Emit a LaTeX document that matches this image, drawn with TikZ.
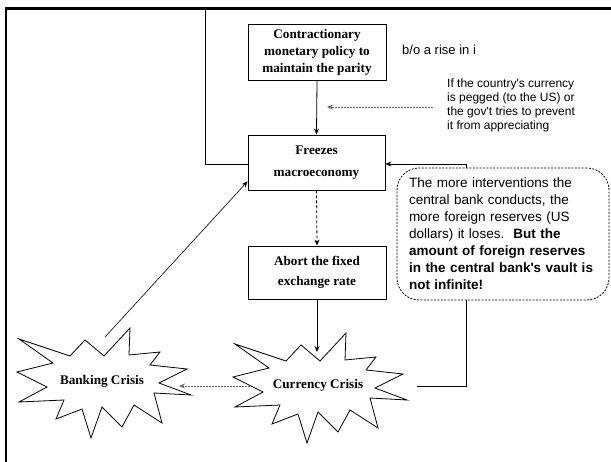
\documentclass[tikz,border=0pt]{standalone}
\usepackage{fontspec}
\setmainfont{Liberation Serif}
\newfontfamily\arial{Liberation Sans}
\usetikzlibrary{arrows.meta}

\tikzset{
  box/.style={draw=black, line width=0.9pt, fill=white, align=center,
    font=\fontsize{13.2}{17}\selectfont\bfseries, inner sep=0pt},
  tipped/.style={-{Stealth[length=6pt,width=5pt,inset=2pt]}},
  solidarr/.style={tipped, line width=0.8pt},
  dasharr/.style={tipped, line width=0.8pt, dash pattern=on 3pt off 2pt},
  dotarr/.style={tipped, line width=0.8pt, gray!80!black, dash pattern=on 1.6pt off 1.4pt},
  thinline/.style={line width=0.8pt},
  burstlabel/.style={font=\fontsize{13.2}{16}\selectfont\bfseries},
  explosion/.pic={
    \draw[line width=0.8pt, fill=white]
      (-83,-42) -- (-32,-25) -- (-17,-41) -- (2,-25) -- (28,-53) -- (27,-26)
      -- (58,-29) -- (48,-16) -- (85,-12) -- (57,2) -- (89,14) -- (52,12)
      -- (60,42) -- (32,24) -- (20,46) -- (0,26) -- (-11,57) -- (-20,28)
      -- (-46,38) -- (-38,19) -- (-83,21) -- (-55,6) -- (-85,-9) -- (-49,-18)
      -- cycle;
  }
}

\begin{document}
\begin{tikzpicture}[x=1pt, y=-1pt]
  \useasboundingbox (0,0) rectangle (611,462);
  \fill[white] (0,0) rectangle (611,462);

  % frame
  \draw[line width=2.7pt, black] (6,462) -- (6,8.7) -- (611,8.7);

  % main chain of boxes
  \node[box, minimum width=138pt, minimum height=56pt] (contr) at (317,52)
    {Contractionary\\monetary policy to\\maintain the parity};
  \node[box, minimum width=137pt, minimum height=55pt,
        font=\fontsize{13.2}{22}\selectfont\bfseries] (freeze) at (316.5,162.5)
    {Freezes\\macroeconomy};
  \node[box, minimum width=138pt, minimum height=53pt,
        font=\fontsize{13.2}{20}\selectfont\bfseries] (abort) at (317,272.5)
    {Abort the fixed\\exchange rate};

  % crises
  \pic at (318,386) {explosion};
  \node[burstlabel] (currency) at (318,385) {Currency Crisis};
  \pic at (102,381) {explosion};
  \node[burstlabel] (banking) at (102,381) {Banking Crisis};

  % side notes
  \node[anchor=west, font=\arial\fontsize{13}{15}\selectfont, inner sep=0pt]
    (rise) at (402,50) {b/o a rise in i};
  \node[anchor=west, align=left, font=\arial\fontsize{12}{14}\selectfont, inner sep=0pt]
    (note) at (447,105)
    {If the country's currency\\is pegged (to the US) or\\the gov't tries to prevent\\it from appreciating};

  % callout on reserves
  \node[draw, line width=0.8pt, dash pattern=on 2pt off 1.4pt, rounded corners=22pt,
        minimum width=212pt, minimum height=132pt, text width=188pt, inner xsep=12pt,
        align=left, font=\arial\fontsize{13.5}{17}\selectfont] (callout) at (503,234)
    {The more interventions the\\central bank conducts, the\\more foreign reserves (US\\dollars) it loses.\ \ \textbf{But the}\\\textbf{amount of foreign reserves}\\\textbf{in the central bank's vault is}\\\textbf{not infinite!}};

  % helper points
  \coordinate (topfeed) at (205,8.7);
  \coordinate (pegtip) at (327,107);
  \coordinate (bktop) at (105,337);
  \coordinate (ccin) at (317,352);
  \coordinate (ccright) at (417,386);
  \coordinate (ccleft) at (250,386);
  \coordinate (bkright) at (179,386);

  % connectors
  \draw[solidarr] (contr.south) -- (freeze.north);
  \draw[dotarr] ([xshift=-14pt]note.west |- pegtip) -- (pegtip);
  \draw[thinline] (topfeed) |- ([yshift=-1.5pt]freeze.west);
  \draw[solidarr] (callout.north -| 466,0) |- ([yshift=-1.5pt]freeze.east);
  \draw[dasharr] (freeze.south) -- (abort.north);
  \draw[solidarr] (abort.south) -- (ccin);
  \draw[thinline] (callout.south -| 466,0) |- (ccright);
  \draw[dotarr] (ccleft) -- (bkright);
  \draw[tipped, line width=0.6pt] (bktop) -- ([yshift=9pt]freeze.south west);
\end{tikzpicture}
\end{document}
